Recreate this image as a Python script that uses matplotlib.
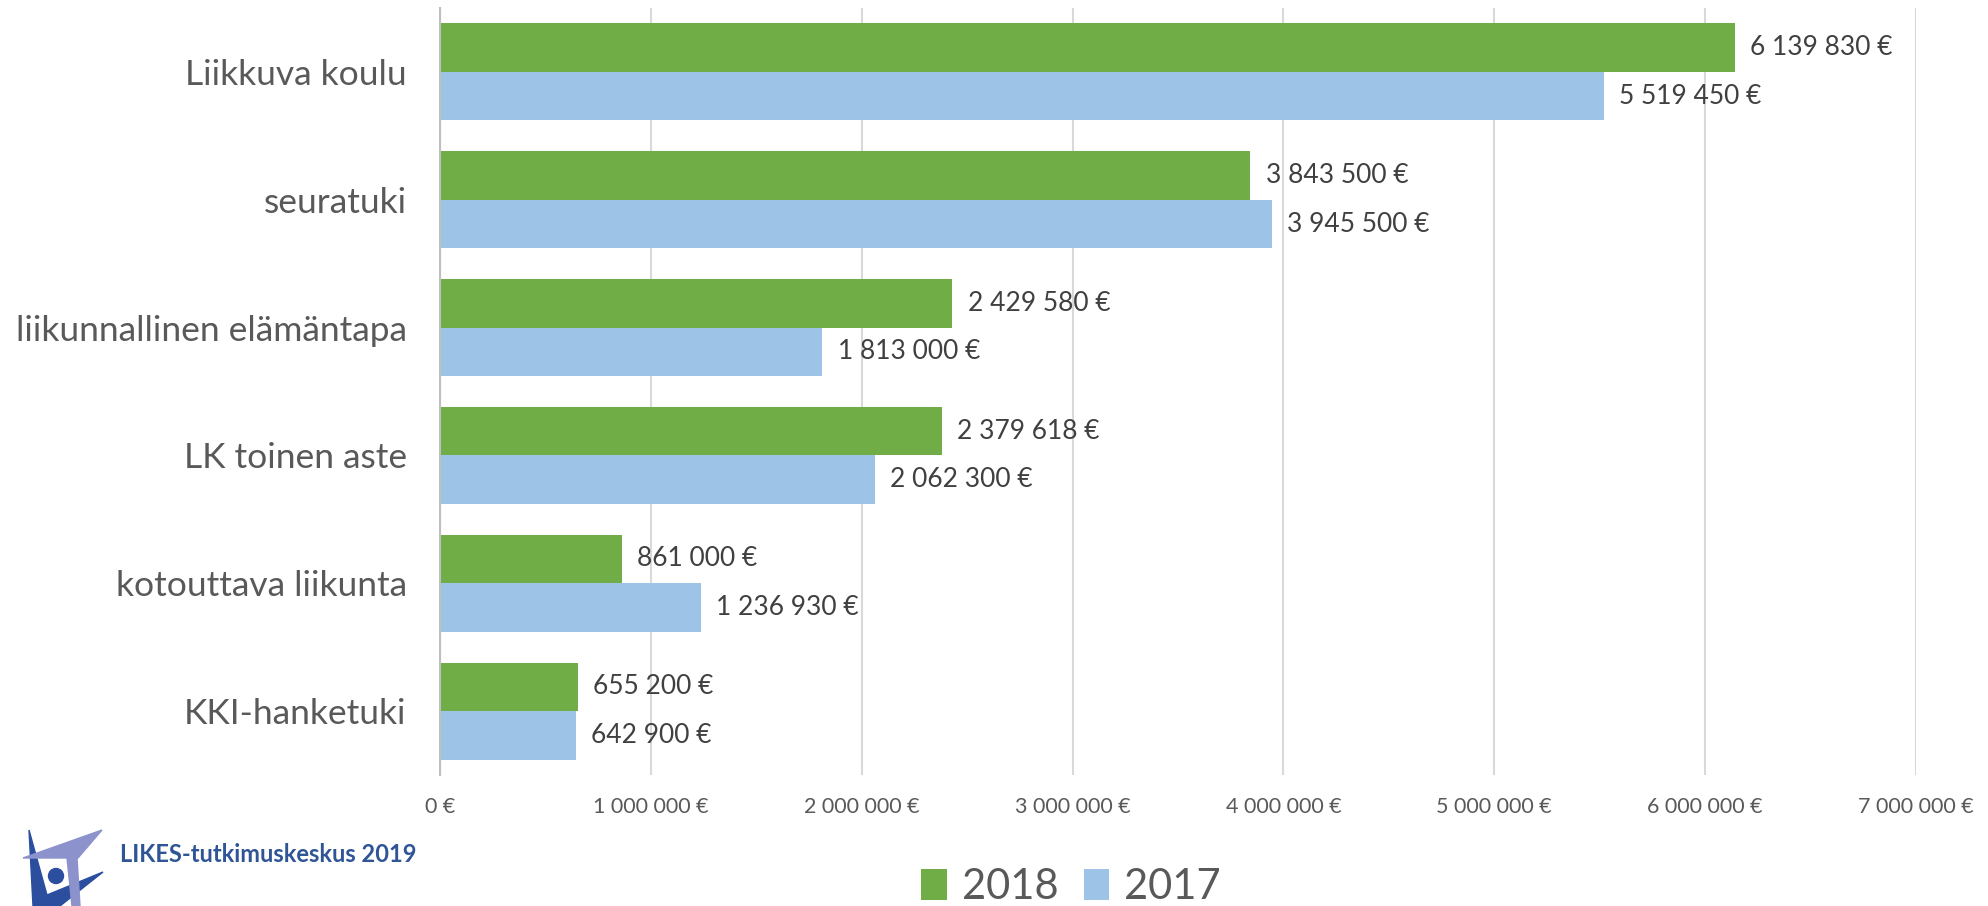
import numpy as np
import matplotlib
matplotlib.use('Agg')
import matplotlib.pyplot as plt
from matplotlib.patches import Polygon, Ellipse

plt.rcParams['font.family'] = ['Lato', 'DejaVu Sans']

categories = ['Liikkuva koulu', 'seuratuki', 'liikunnallinen elämäntapa',
              'LK toinen aste', 'kotouttava liikunta', 'KKI-hanketuki']
values_2018 = [6139830, 3843500, 2429580, 2379618, 861000, 655200]
values_2017 = [5519450, 3945500, 1813000, 2062300, 1236930, 642900]
series_names = ['2018', '2017']
x_ticks = [0, 1000000, 2000000, 3000000, 4000000, 5000000, 6000000, 7000000]

GREEN = '#70AD47'
BLUE = '#9DC3E6'
GRID = '#D9D9D9'
TXT = '#595959'
LABEL = '#404040'


def euro(v):
  return '{:,.0f} €'.format(v).replace(',', ' ')


W, H = 1988, 906
fig = plt.figure(figsize=(W / 100, H / 100), dpi=100)
ax = fig.add_axes([440 / W, 1 - 775 / H, (1916 - 440) / W, (775 - 8) / H])

y = np.arange(len(categories))
h = 0.38
bars18 = ax.barh(y - h / 2, values_2018, height=h, color=GREEN, label=series_names[0], zorder=3)
bars17 = ax.barh(y + h / 2, values_2017, height=h, color=BLUE, label=series_names[1], zorder=3)

for bars, vals in ((bars18, values_2018), (bars17, values_2017)):
  for b, v in zip(bars, vals):
    ax.annotate(euro(v), (v, b.get_y() + b.get_height() / 2),
                xytext=(11, 0), textcoords='offset points',
                va='center', ha='left', fontsize=19, color=LABEL)

ax.set_ylim(len(categories) - 0.5, -0.5)
ax.set_xlim(0, x_ticks[-1])
ax.set_yticks(y)
ax.set_yticklabels(categories, fontsize=25.5, color=TXT)
ax.set_xticks(x_ticks)
ax.set_xticklabels([euro(v) for v in x_ticks], fontsize=15.5, color=TXT)
ax.tick_params(axis='both', length=0)
ax.tick_params(axis='y', pad=24)
ax.tick_params(axis='x', pad=16)

ax.grid(axis='x', color=GRID, linewidth=1.5, zorder=0)
for side in ('top', 'right', 'bottom'):
  ax.spines[side].set_visible(False)
ax.spines['left'].set_color('#BFBFBF')
ax.spines['left'].set_linewidth(1.5)
ax.spines['left'].set_zorder(4)

fig.legend(handles=[bars18, bars17], loc='center', bbox_to_anchor=(1071 / W, 1 - 887 / H),
           ncol=2, frameon=False, fontsize=30, handlelength=0.62, handleheight=0.75,
           handletextpad=0.35, columnspacing=0.6, labelcolor=TXT)

# logo + credit text
def px(pts):
  return [(a / W, 1 - b / H) for a, b in pts]

DARK = '#2B4F9E'
LIGHT = '#8C93CC'
fig.patches.append(Polygon(px([(29, 830), (47, 895), (103, 872), (60, 906), (33, 906)]),
                           closed=True, color=DARK, transform=fig.transFigure))
fig.patches.append(Polygon(px([(23, 858), (102, 830), (78, 858)]),
                           closed=True, color=LIGHT, transform=fig.transFigure))
fig.patches.append(Polygon(px([(67, 858), (77, 858), (80, 906), (72, 906)]),
                           closed=True, color=LIGHT, transform=fig.transFigure))
fig.patches.append(Ellipse((56 / W, 1 - 876 / H), 15 / W, 15 / H, color=DARK,
                           transform=fig.transFigure))

fig.text(120 / W, 1 - 854 / H, 'LIKES-tutkimuskeskus 2019', fontsize=17, fontweight='bold',
         color='#2F5597', va='center', ha='left')

fig.savefig('out.png', dpi=100)
